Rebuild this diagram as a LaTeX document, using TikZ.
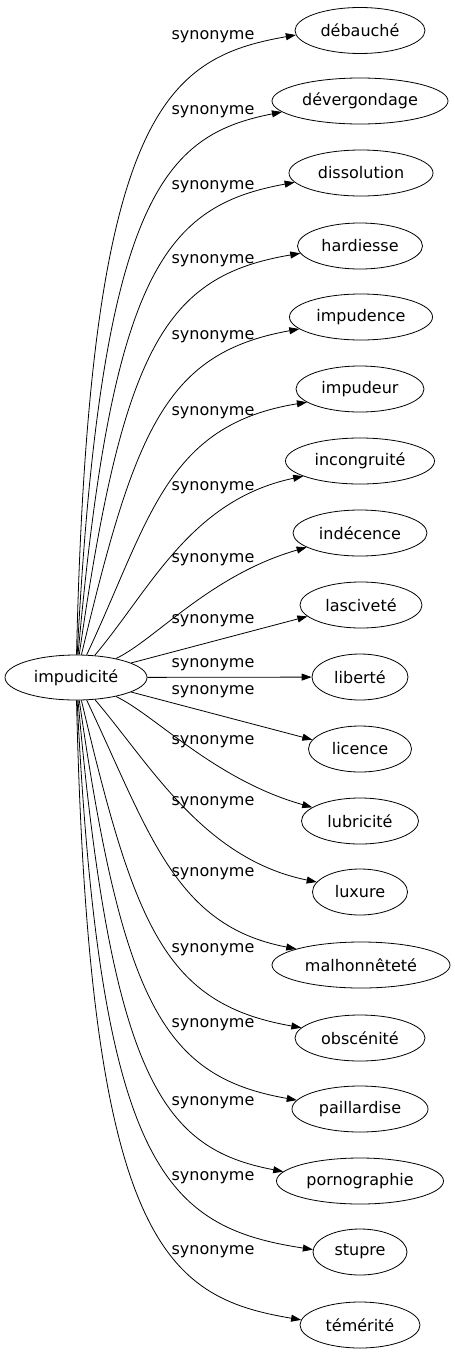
\documentclass[tikz,border=0pt]{standalone}
\usepackage{fontspec}
\setmainfont{DejaVu Sans}
\usetikzlibrary{arrows.meta,shapes.geometric}
\tikzset{
  word/.style={draw, ellipse, inner sep=0pt, minimum height=46pt, font=\fontsize{16}{19}\selectfont},
  rel/.style={font=\fontsize{16}{19}\selectfont, inner sep=0pt},
}
\begin{document}
\begin{tikzpicture}[x=1pt, y=1pt, >={Triangle[length=10pt,width=7pt]}, line width=0.8pt]
      \useasboundingbox (0,0) rectangle (455,-1355);
      % centre
      \node[word, minimum width=142pt, minimum height=45pt] (c) at (76,-677.5) {impudicité};
      % synonymes
      \node[word, minimum width=130pt] (w1) at (360,-30.5) {débauché};
      \node[word, minimum width=176pt] (w2) at (360,-101) {dévergondage};
      \node[word, minimum width=144pt] (w3) at (361,-173) {dissolution};
      \node[word, minimum width=125pt] (w4) at (360,-246) {hardiesse};
      \node[word, minimum width=143pt] (w5) at (361,-317) {impudence};
      \node[word, minimum width=128pt] (w6) at (360,-389) {impudeur};
      \node[word, minimum width=149pt] (w7) at (360,-461) {incongruité};
      \node[word, minimum width=134pt] (w8) at (360,-533) {indécence};
      \node[word, minimum width=122pt] (w9) at (361,-605) {lasciveté};
      \node[word, minimum width=96pt] (w10) at (360,-677) {liberté};
      \node[word, minimum width=103pt] (w11) at (360,-749) {licence};
      \node[word, minimum width=117pt] (w12) at (360,-821) {lubricité};
      \node[word, minimum width=95pt] (w13) at (360,-892) {luxure};
      \node[word, minimum width=178pt] (w14) at (361,-965) {malhonnêteté};
      \node[word, minimum width=130pt] (w15) at (360,-1038) {obscénité};
      \node[word, minimum width=136pt] (w16) at (360,-1109) {paillardise};
      \node[word, minimum width=167pt] (w17) at (360,-1181) {pornographie};
      \node[word, minimum width=94pt] (w18) at (360,-1252) {stupre};
      \node[word, minimum width=120pt] (w19) at (360,-1325) {témérité};
      % edges
      \draw [->] (c) .. controls (89,-112) and (165,-58) .. (w1.184);
      \draw [->] (c) .. controls (101,-195) and (165,-135) .. (w2.188);
      \draw [->] (c) .. controls (112,-272) and (165,-206) .. (w3.188);
      \draw [->] (c) .. controls (123,-347) and (165,-276) .. (w4.187);
      \draw [->] (c) .. controls (135,-430) and (165,-353) .. (w5.191);
      \draw [->] (c) .. controls (150,-520) and (165,-425) .. (w6.194);
      \draw [->] (c) .. controls (150,-590) and (190,-500) .. (w7.195);
      \draw [->] (c) .. controls (155,-640) and (210,-575) .. (w8.195);
      \draw [->] (c) -- (w9.192);
      \draw [->] (c) -- (w10);
      \draw [->] (c) -- (w11.169);
      \draw [->] (c) .. controls (155,-715) and (215,-780) .. (w12.164);
      \draw [->] (c) .. controls (150,-764) and (203,-859) .. (w13.167);
      \draw [->] (c) .. controls (150,-834) and (175,-926) .. (w14.166);
      \draw [->] (c) .. controls (135,-927) and (165,-1004) .. (w15.170);
      \draw [->] (c) .. controls (123,-1006) and (165,-1077) .. (w16.172);
      \draw [->] (c) .. controls (112,-1084) and (165,-1149) .. (w17.173);
      \draw [->] (c) .. controls (100,-1168) and (165,-1227) .. (w18.177);
      \draw [->] (c) .. controls (89,-1243) and (165,-1297) .. (w19.175);
      % labels
      \node[rel] (s1) at (213,-37) {synonyme};
      \node[rel] (s2) at (213,-112) {synonyme};
      \node[rel] (s3) at (213,-187) {synonyme};
      \node[rel] (s4) at (213,-261) {synonyme};
      \node[rel] (s5) at (213,-337) {synonyme};
      \node[rel] (s6) at (213,-413) {synonyme};
      \node[rel] (s7) at (213,-488) {synonyme};
      \node[rel] (s8) at (213,-560) {synonyme};
      \node[rel] (s9) at (213,-621) {synonyme};
      \node[rel] (s10) at (213,-665) {synonyme};
      \node[rel] (s11) at (213,-692) {synonyme};
      \node[rel] (s12) at (213,-742) {synonyme};
      \node[rel] (s13) at (213,-803) {synonyme};
      \node[rel] (s14) at (213,-874) {synonyme};
      \node[rel] (s15) at (213,-950) {synonyme};
      \node[rel] (s16) at (213,-1025) {synonyme};
      \node[rel] (s17) at (213,-1103) {synonyme};
      \node[rel] (s18) at (213,-1178) {synonyme};
      \node[rel] (s19) at (213,-1252) {synonyme};
    \end{tikzpicture}
\end{document}
